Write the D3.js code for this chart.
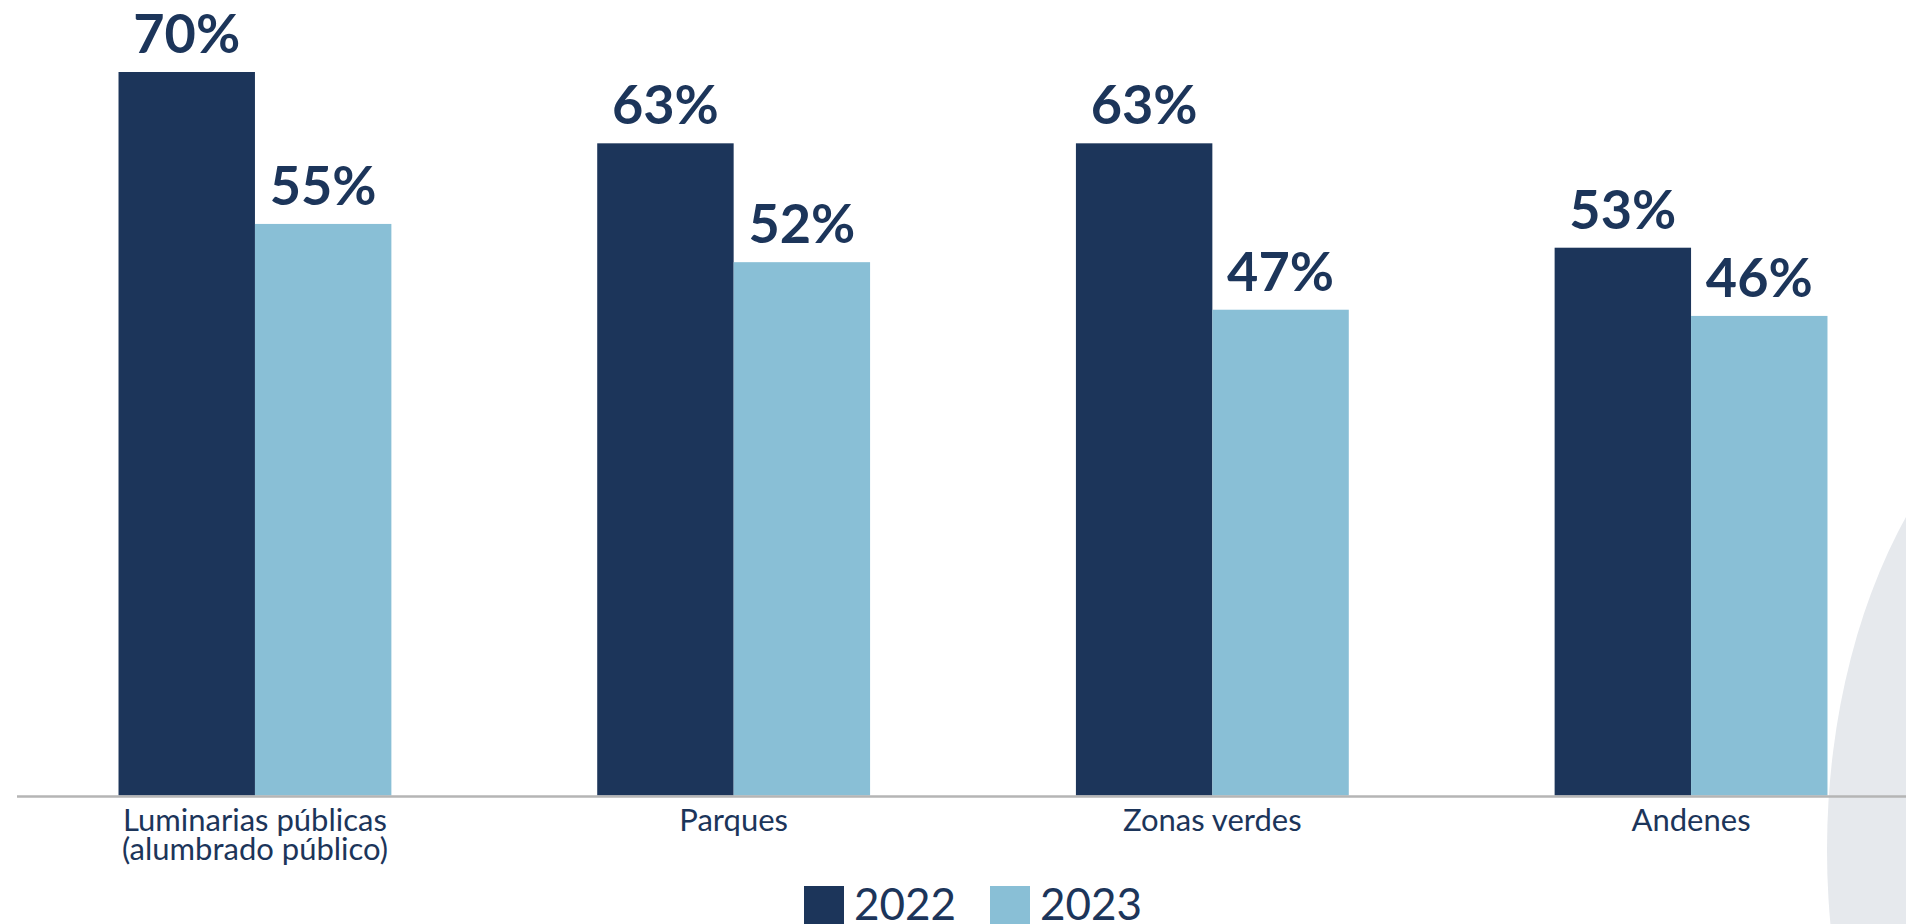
<!DOCTYPE html>
<html>
<head>
<meta charset="utf-8">
<script src="https://cdn.jsdelivr.net/npm/d3@7"></script>
<style>
html,body{margin:0;padding:0;background:#fff;overflow:hidden;}
svg{display:block;}
</style>
</head>
<body>
<svg id="chart" width="1906" height="924"></svg>
<script>
const categories = [["Luminarias públicas","(alumbrado público)"],["Parques"],["Zonas verdes"],["Andenes"]];
const seriesNames = ["2022","2023"];
const values2022 = [70, 63.1, 63.1, 53];
const values2023 = [55.3, 51.6, 47, 46.4];
const colors = ["#1c355a", "#89bfd6"];
const textColor = "#1c355a";

const svg = d3.select("#chart");
const W = 1906, H = 924;
const baseY = 795.5;

// decorative background arc
svg.append("ellipse")
  .attr("cx", 2138).attr("cy", 850).attr("rx", 311).attr("ry", 500)
  .attr("fill", "#e6e9ed");

const catKeys = categories.map(c => c.join(" "));
const x0 = d3.scaleBand().domain(catKeys).range([15.6, 1930.4]).paddingInner(0.43).paddingOuter(0.215);
const x1 = d3.scaleBand().domain(seriesNames).range([0, x0.bandwidth()]).padding(0);
const y = d3.scaleLinear().domain([0, 70]).range([baseY, 72]);

const data = catKeys.map((k, i) => ({key: k, lines: categories[i], vals: [values2022[i], values2023[i]]}));

const g = svg.append("g");
const groups = g.selectAll("g.grp").data(data).join("g")
  .attr("class", "grp")
  .attr("transform", d => `translate(${x0(d.key)},0)`);

groups.selectAll("rect").data(d => d.vals.map((v, j) => ({v, s: seriesNames[j], j})))
  .join("rect")
  .attr("x", d => x1(d.s))
  .attr("y", d => y(d.v))
  .attr("width", x1.bandwidth())
  .attr("height", d => y(0) - y(d.v))
  .attr("fill", d => colors[d.j]);

groups.selectAll("text.val").data(d => d.vals.map((v, j) => ({v, s: seriesNames[j], j})))
  .join("text")
  .attr("class", "val")
  .attr("x", d => x1(d.s) + x1.bandwidth() / 2)
  .attr("y", d => y(d.v) - 19)
  .attr("text-anchor", "middle")
  .attr("font-family", "Lato, sans-serif")
  .attr("font-weight", 700)
  .attr("font-size", 54)
  .attr("fill", textColor)
  .text(d => Math.round(d.v) + "%");

// axis baseline
svg.append("line")
  .attr("x1", 17).attr("x2", W)
  .attr("y1", baseY + 1).attr("y2", baseY + 1)
  .attr("stroke", "#b5b5b5").attr("stroke-width", 2.5);

// category labels
const cl = svg.append("g");
data.forEach(d => {
  const t = cl.append("text")
    .attr("x", x0(d.key) + x0.bandwidth() / 2)
    .attr("y", 831)
    .attr("text-anchor", "middle")
    .attr("font-family", "Lato, sans-serif")
    .attr("font-size", 31)
    .attr("fill", textColor);
  d.lines.forEach((ln, i) => {
    t.append("tspan").attr("x", x0(d.key) + x0.bandwidth() / 2).attr("dy", i === 0 ? 0 : 29).text(ln);
  });
});

// legend
const lg = svg.append("g");
const legX = [804, 990];
seriesNames.forEach((s, i) => {
  lg.append("rect").attr("x", legX[i]).attr("y", 886).attr("width", 40).attr("height", 40).attr("fill", colors[i]);
  lg.append("text").attr("x", legX[i] + 50).attr("y", 920)
    .attr("font-family", "Lato, sans-serif").attr("font-size", 44)
    .attr("fill", textColor).text(s);
});
</script>
</body>
</html>
